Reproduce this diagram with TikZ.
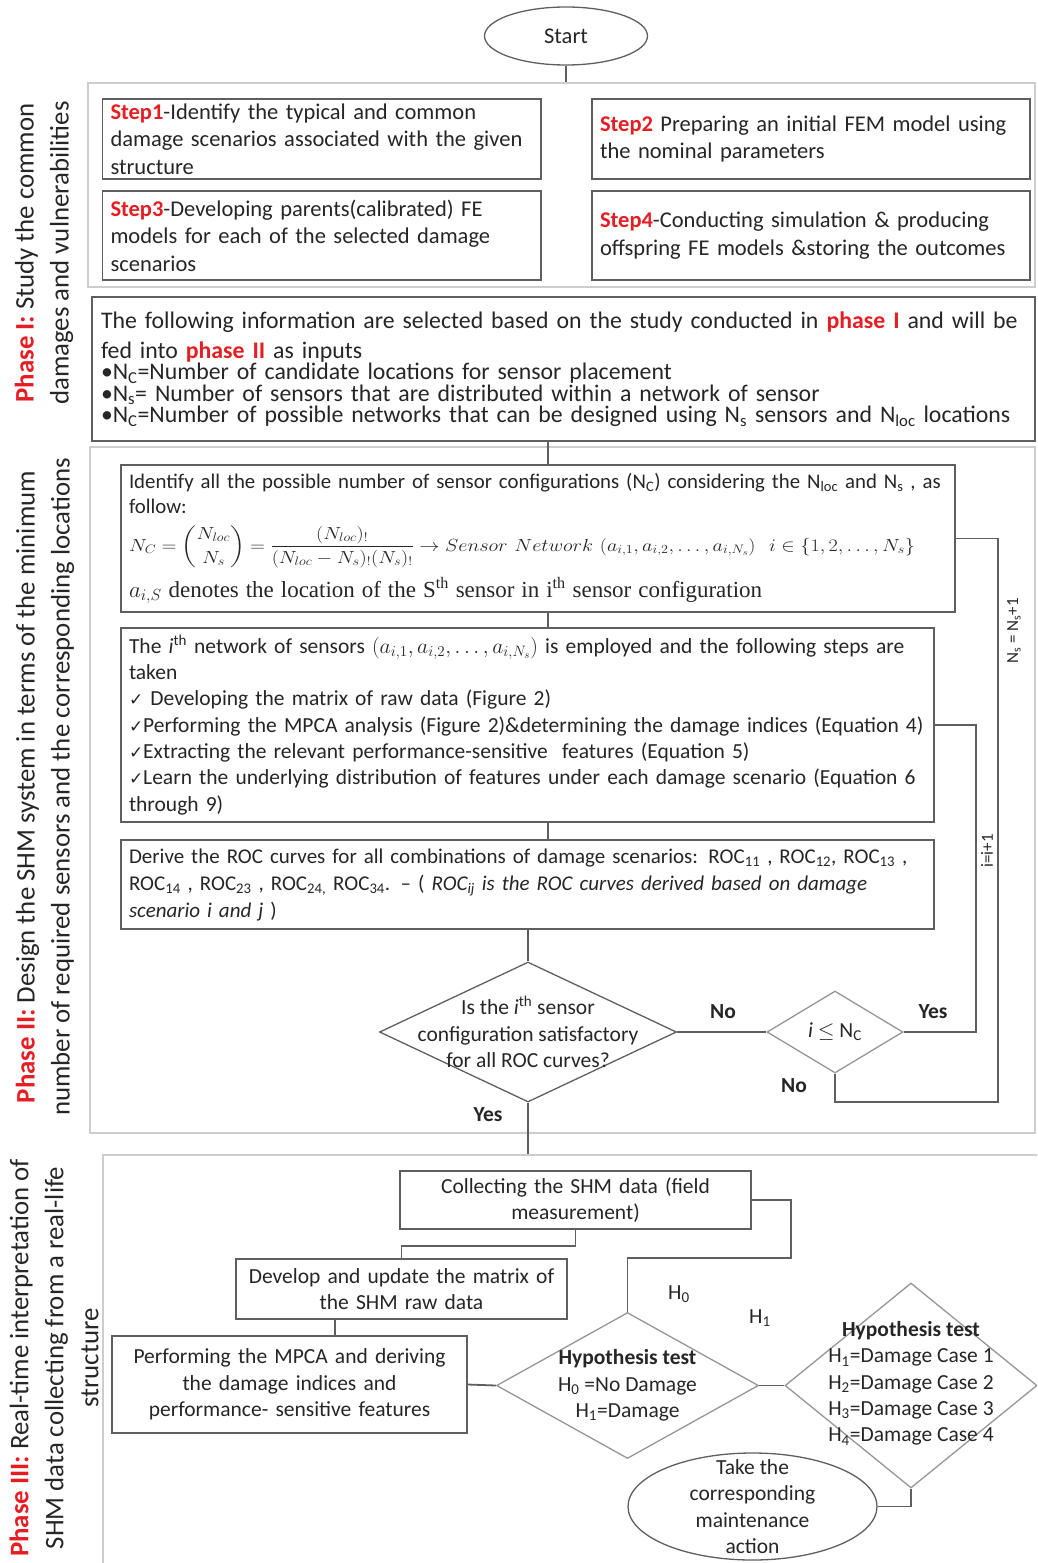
\RequirePackage{fix-cm}
\documentclass[tikz,border=0pt]{standalone}
\usepackage{amsmath}
\usepackage{graphicx}
\usepackage{fontspec}
\setmainfont{Carlito}
\newfontfamily\checkfont{DejaVu Sans}
\newfontfamily\timesfont{Liberation Serif}
\usetikzlibrary{shapes.geometric}

\definecolor{phasered}{RGB}{230,30,35}
\definecolor{inkgray}{RGB}{38,38,38}
\definecolor{boxgray}{RGB}{95,95,95}
\definecolor{panelgray}{RGB}{205,205,205}
\definecolor{diagray}{RGB}{150,150,150}

\newcommand{\redbf}[1]{\textcolor{phasered}{\bfseries #1}}
\newcommand{\chk}{{\checkfont\fontsize{17}{17}\selectfont\char"2713}}
\newcommand{\subtxt}[1]{\textsubscript{#1}}
\newcommand{\suptxt}[1]{\textsuperscript{#1}}
\newcommand{\stepsize}{\fontsize{22.5}{27.5}\selectfont}
\newcommand{\infosize}{\fontsize{23.8}{30}\selectfont}
\newcommand{\bodysize}{\fontsize{21.5}{26.3}\selectfont}
\newcommand{\formsize}{\fontsize{20.8}{25}\selectfont}
\newcommand{\rocsize}{\fontsize{21}{27}\selectfont}
\newcommand{\phasesize}{\fontsize{26.8}{35}\selectfont}
\newcommand{\loopsize}{\fontsize{17}{20}\selectfont}

\begin{document}
\begin{tikzpicture}[x=1pt,y=-1pt,
  every node/.style={text=inkgray},
  panel/.style={draw=panelgray, line width=1.6pt},
  stepbox/.style={draw=boxgray, line width=1.3pt, fill=white, align=left,
    inner xsep=8pt, inner ysep=0pt},
  choice/.style={diamond, draw=boxgray, line width=1.3pt, inner sep=0pt},
  oval/.style={ellipse, draw=boxgray, line width=1.3pt, inner sep=0pt},
  flow/.style={draw=boxgray, line width=1.8pt},
  answer/.style={font=\bodysize\bfseries}]
\useasboundingbox (0,0) rectangle (1037,1563);
\clip (0,0) rectangle (1037,1563);

% phase panels
\node[panel, minimum width=947pt, minimum height=204pt] (phaseone) at (561.5,185) {};
\node[panel, minimum width=945pt, minimum height=686pt] (phasetwo) at (562.5,790) {};
\node[panel, minimum width=947pt, minimum height=425pt] (phasethree) at (576.5,1367.5) {};

% phase titles
\node[font=\phasesize, rotate=90, align=center] (titleone) at (44,253)
  {\redbf{Phase I:} Study the common\\damages and vulnerabilities};
\node[font=\phasesize, rotate=90, align=center] (titletwo) at (45,787)
  {\redbf{Phase II:} Design the SHM system in terms of the minimum\\number of required sensors and the corresponding locations};
\node[font=\phasesize, rotate=90, align=center] (titlethree) at (54,1358)
  {\redbf{Phase III:} Real-time interpretation of\\SHM data collecting from a real-life\\structure};

% phase I
\node[oval, minimum width=163pt, minimum height=58pt, font=\stepsize] (start) at (566,36) {Start};
\node[stepbox, font=\stepsize, minimum width=438.5pt, text width=422.5pt, minimum height=80pt] (stepA) at (321.75,139)
  {\redbf{Step1}-Identify the typical and common\\damage scenarios associated with the given\\structure};
\node[stepbox, font=\stepsize, minimum width=438pt, text width=422pt, minimum height=80pt] (stepB) at (811,139)
  {\redbf{Step2} Preparing an initial FEM model using\\the nominal parameters};
\node[stepbox, font=\stepsize, minimum width=438.5pt, text width=422.5pt, minimum height=89pt] (stepC) at (321.75,235.5)
  {\redbf{Step3}-Developing parents(calibrated) FE\\models for each of the selected damage\\scenarios};
\node[stepbox, font=\stepsize, minimum width=438pt, text width=422pt, minimum height=89pt] (stepD) at (811,235.5)
  {\redbf{Step4}-Conducting simulation \& producing\\offspring FE models \&storing the outcomes};
\node[stepbox, font=\infosize, inner xsep=9pt, minimum width=943pt, text width=925pt, minimum height=144pt] (inputs) at (563.5,369)
  {The following information are selected based on the study conducted in \redbf{phase I} and will be\\
   fed into \redbf{phase II} as inputs\\[-8.5pt]
   \textbullet N\subtxt{C}=Number of candidate locations for sensor placement\\[-8.5pt]
   \textbullet N\subtxt{s}= Number of sensors that are distributed within a network of sensor\\[-8.5pt]
   \textbullet N\subtxt{C}=Number of possible networks that can be designed using N\subtxt{s} sensors and N\subtxt{loc} locations};

% phase II
\node[stepbox, font=\formsize, minimum width=834pt, text width=818pt, minimum height=147pt] (combos) at (538,538.5)
  {Identify all the possible number of sensor configurations (N\subtxt{C}) considering the N\subtxt{loc} and N\subtxt{s} , as\\
   follow:\\[11pt]
   \resizebox*{786pt}{42pt}{$N_C=\dbinom{N_{loc}}{N_s}=\dfrac{(N_{loc})_!}{(N_{loc}-N_s)_!(N_s)_!}\rightarrow \mathnormal{Sensor\ Network}\ (a_{i,1},a_{i,2},\ldots,a_{i,N_s})\ \ i\in\{1,2,\ldots,N_s\}$}\\[9pt]
   {\timesfont\fontsize{23}{26}\selectfont $a_{i,S}$ denotes the location of the S\suptxt{th} sensor in i\suptxt{th} sensor configuration}};
\node[stepbox, font=\bodysize, minimum width=813pt, text width=797pt, minimum height=194pt] (network) at (527.5,725)
  {The \textit{i}\suptxt{th} network of sensors $(a_{i,1},a_{i,2},\ldots,a_{i,N_s})$ is employed and the following steps are\\
   taken\\
   \chk\ Developing the matrix of raw data (Figure 2)\\
   \chk Performing the MPCA analysis (Figure 2)\&determining the damage indices (Equation 4)\\
   \chk Extracting the relevant performance-sensitive\ \ features (Equation 5)\\
   \chk Learn the underlying distribution of features under each damage scenario (Equation 6\\
   through 9)};
\node[stepbox, font=\rocsize, minimum width=813pt, text width=797pt, minimum height=89pt] (roc) at (527.5,884.5)
  {Derive the ROC curves for all combinations of damage scenarios: ROC\subtxt{11} , ROC\subtxt{12}, ROC\subtxt{13} ,\\
   ROC\subtxt{14} , ROC\subtxt{23} , ROC\subtxt{24,} ROC\subtxt{34}. -- ( \textit{ROC\subtxt{ij} is the ROC curves derived based on damage}\\
   \textit{scenario i and j} )};
\node[choice, minimum width=297pt, minimum height=140pt] (satis) at (528,1032) {};
\node[font=\bodysize, align=center] (satistext) at (satis)
  {Is the \textit{i}\suptxt{th} sensor\\configuration satisfactory\\for all ROC curves?};
\node[choice, draw=diagray, minimum width=136pt, minimum height=82pt] (lenq) at (835,1032) {};
\node[font=\bodysize] (lenqtext) at (lenq) {\textit{i} $\leq$ N\subtxt{C}};

% phase III
\node[stepbox, font=\bodysize, align=center, minimum width=351pt, text width=335pt, minimum height=58pt] (collect) at (575.5,1200)
  {Collecting the SHM data (field\\measurement)};
\node[stepbox, font=\bodysize, align=center, minimum width=331pt, text width=315pt, minimum height=60pt] (develop) at (401.5,1289)
  {Develop and update the matrix of\\the SHM raw data};
\node[stepbox, font=\bodysize, align=center, minimum width=355pt, text width=339pt, minimum height=97pt] (perform) at (289.5,1384.5)
  {Performing the MPCA and deriving\\the damage indices and\\performance- sensitive features};
\node[choice, draw=diagray, minimum width=262pt, minimum height=146pt] (hyp) at (627.5,1385.5) {};
\node[font=\bodysize, align=center] (hyptext) at (hyp)
  {\textbf{Hypothesis test}\\H\subtxt{0} =No Damage\\H\subtxt{1}=Damage};
\node[choice, draw=diagray, minimum width=252pt, minimum height=205pt] (cases) at (911,1385.5) {};
\node[font=\bodysize, align=center] (casestext) at (911,1383.5)
  {\textbf{Hypothesis test}\\H\subtxt{1}=Damage Case 1\\H\subtxt{2}=Damage Case 2\\H\subtxt{3}=Damage Case 3\\H\subtxt{4}=Damage Case 4};
\node[oval, minimum width=249pt, minimum height=107pt] (action) at (752.5,1506.5) {};
\node[font=\bodysize, align=center] (actiontext) at (action)
  {Take the\\corresponding\\maintenance\\action};

% connectors
\coordinate (spine) at (548,0);
\draw[flow] (start.south) -- (start.south |- phaseone.north);
\draw[flow] (inputs.south -| spine) -- (combos.north -| spine);
\draw[flow] (combos.south -| spine) -- (network.north -| spine);
\draw[flow] (network.south -| spine) -- (roc.north -| spine);
\draw[flow] (roc.south -| satis.north) -- (satis.north);
\draw[flow] (satis.east) -- (lenq.west);
\coordinate (iloop) at (976,1032);
\draw[flow] (lenq.east) -- (iloop) |- (network.east);
\coordinate (nsloop) at (998,1102);
\draw[flow] (lenq.south) |- (nsloop) |- (combos.east);
\draw[flow] (satis.south) -- (satis.south |- phasethree.north);
\draw[flow] (collect.south) -- ++(0,16) -| (develop.north);
\coordinate (drop) at (335,0);
\draw[flow] (develop.south -| drop) -- (perform.north -| drop);
\draw[flow] (perform.east) -- (hyp.west);
\coordinate (hjog) at (791,1258);
\draw[flow] (collect.east) -| (hjog) -| (hyp.north);
\draw[flow] (hyp.east) -- (cases.west);
\draw[flow] (cases.south) |- (action.east);

% connector labels
\node[answer] (noA) at (723,1012) {No};
\node[answer] (yesA) at (933,1012) {Yes};
\node[answer] (noB) at (794,1086) {No};
\node[answer] (yesB) at (488,1115) {Yes};
\node[font=\bodysize] (hzero) at (679,1294) {H\subtxt{0}};
\node[font=\bodysize] (hone) at (760,1318) {H\subtxt{1}};
\node[font=\loopsize, rotate=90] (nsinc) at (1014,631) {N\subtxt{s} = N\subtxt{s}+1};
\node[font=\loopsize, rotate=90] (iinc) at (987,851) {i=i+1};
\end{tikzpicture}
\end{document}
